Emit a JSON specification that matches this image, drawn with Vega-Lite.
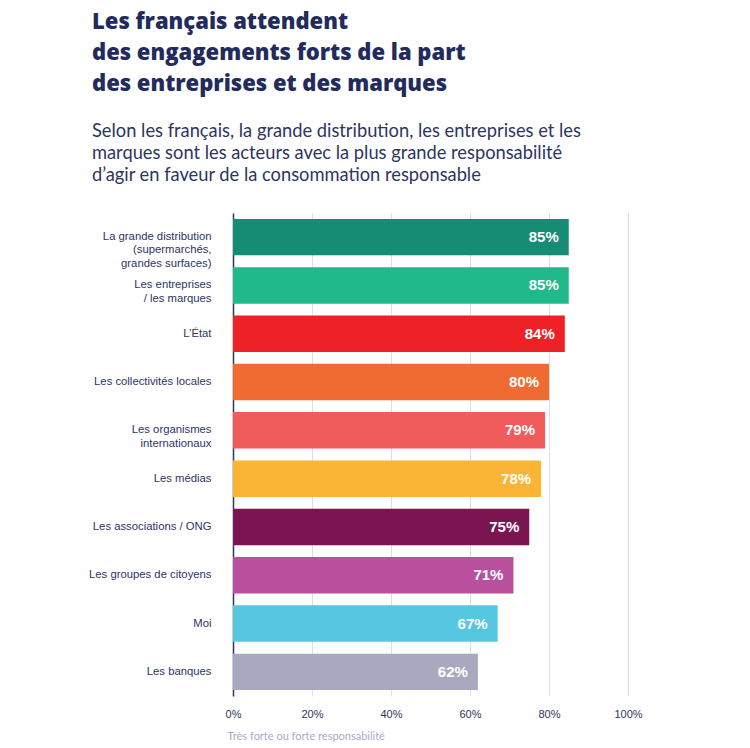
{
  "$schema": "https://vega.github.io/schema/vega-lite/v6.json",
  "autosize": "none",
  "width": 395,
  "height": 483,
  "padding": {"left": 233, "top": 213, "right": 122, "bottom": 52},
  "background": "white",
  "title": {
    "text": ["Les français attendent", "des engagements forts de la part", "des entreprises et des marques"],
    "subtitle": ["Selon les français, la grande distribution, les entreprises et les", "marques sont les acteurs avec la plus grande responsabilité", "d’agir en faveur de la consommation responsable"],
    "anchor": "start",
    "frame": "group",
    "dx": -141,
    "offset": 28,
    "font": "Open Sans",
    "fontSize": 22,
    "fontWeight": 800,
    "color": "#222b5c",
    "lineHeight": 31,
    "subtitleFont": "Lato",
    "subtitleFontSize": 18.3,
    "subtitleFontWeight": "normal",
    "subtitleColor": "#2d3561",
    "subtitleLineHeight": 22,
    "subtitlePadding": 27
  },
  "data": {
    "values": [
      {"acteur": "La grande distribution|(supermarchés,|grandes surfaces)", "valeur": 0.85},
      {"acteur": "Les entreprises|/ les marques", "valeur": 0.85},
      {"acteur": "L’État", "valeur": 0.84},
      {"acteur": "Les collectivités locales", "valeur": 0.80},
      {"acteur": "Les organismes|internationaux", "valeur": 0.79},
      {"acteur": "Les médias", "valeur": 0.78},
      {"acteur": "Les associations / ONG", "valeur": 0.75},
      {"acteur": "Les groupes de citoyens", "valeur": 0.71},
      {"acteur": "Moi", "valeur": 0.67},
      {"acteur": "Les banques", "valeur": 0.62}
    ]
  },
  "encoding": {
    "y": {
      "field": "acteur",
      "type": "nominal",
      "sort": null,
      "scale": {"paddingInner": 0.245, "paddingOuter": 0.122},
      "axis": {
        "title": null,
        "ticks": false,
        "labelPadding": 22,
        "labelExpr": "split(datum.label, '|')",
        "labelFont": "Liberation Sans",
        "labelFontSize": 11.3,
        "labelColor": "#2d3561",
        "labelLineHeight": 13.3,
        "labelLimit": 250,
        "domainColor": "#2d3561",
        "domainWidth": 1.5,
        "grid": false,
        "encode": {
          "labels": {
            "update": {
              "dy": {"signal": "-(length(split(datum.value, '|')) - 1) * 6.65"}
            }
          }
        }
      }
    },
    "x": {
      "field": "valeur",
      "type": "quantitative",
      "scale": {"domain": [0, 1]},
      "axis": {
        "format": ".0%",
        "values": [0, 0.2, 0.4, 0.6, 0.8, 1],
        "labelFlush": false,
        "title": "Très forte ou forte responsabilité",
        "titleFont": "Lato",
        "titleFontSize": 11,
        "titleFontWeight": "normal",
        "titleColor": "#a9abc9",
        "titleAnchor": "start",
        "titleAlign": "left",
        "titleX": -6,
        "titleY": 43,
        "titleBaseline": "alphabetic",
        "domain": false,
        "ticks": false,
        "labelPadding": 12,
        "labelFont": "Liberation Sans",
        "labelFontSize": 11,
        "labelColor": "#2d3561",
        "grid": true,
        "gridColor": "#dcdde8",
        "gridWidth": 1
      }
    }
  },
  "layer": [
    {
      "mark": {"type": "bar"},
      "encoding": {
        "color": {
          "field": "acteur",
          "type": "nominal",
          "legend": null,
          "scale": {
            "domain": ["La grande distribution|(supermarchés,|grandes surfaces)", "Les entreprises|/ les marques", "L’État", "Les collectivités locales", "Les organismes|internationaux", "Les médias", "Les associations / ONG", "Les groupes de citoyens", "Moi", "Les banques"],
            "range": ["#168c75", "#1fb98b", "#ee2127", "#ef6b31", "#f05c5c", "#fbb536", "#7a1552", "#b8509e", "#55c7e0", "#a8a9c0"]
          }
        }
      }
    },
    {
      "mark": {"type": "text", "align": "right", "baseline": "middle", "dx": -10, "color": "white", "font": "Liberation Sans", "fontSize": 15, "fontWeight": "bold"},
      "encoding": {
        "text": {"field": "valeur", "type": "quantitative", "format": ".0%"}
      }
    }
  ],
  "config": {"view": {"stroke": null}}
}
